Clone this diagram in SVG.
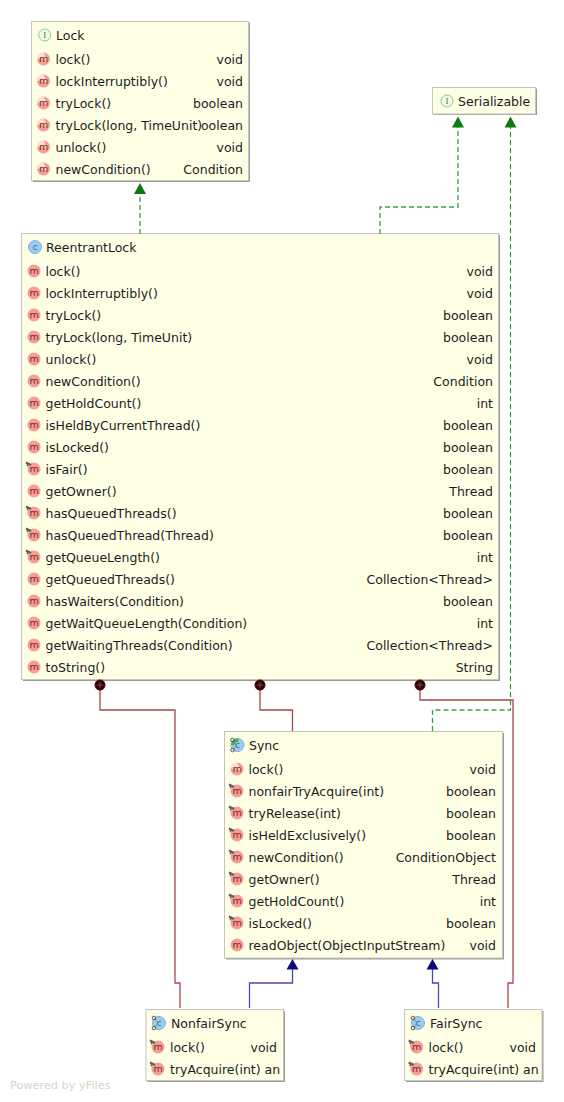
<svg xmlns="http://www.w3.org/2000/svg" width="564" height="1102" viewBox="0 0 564 1102">
<style>
text{font-family:"DejaVu Sans",sans-serif;font-size:12.5px;fill:#1c1c1c}
.r{text-anchor:end}
.box{fill:#ffffe6;stroke:#c4c4c4;stroke-width:1}
.sh{fill:#9a9a9a}
.dep{fill:none;stroke:#3ba33b;stroke-width:1.3;stroke-dasharray:5 3}
.inh{fill:none;stroke:#4a4aa8;stroke-width:1.3}
.own{fill:none;stroke:#a5474c;stroke-width:1.3}
.wm{fill:#d4d6c8;font-size:11.3px}
.mt{fill:#7a2a20;font-size:9.5px;text-anchor:middle}
.ct{fill:#3d6f96;font-size:9.5px;text-anchor:middle}
.it{fill:#2f7a3d;font-size:9px;text-anchor:middle;font-family:"Liberation Serif",serif}
</style>
<defs>
<g id="m"><circle r="6.5" fill="#f59d96"/><text class="mt" y="3">m</text></g>
<g id="pin"><path d="M-7.500-7.500l5 2.500-1 2-2-1-.5 1.500-1.500-.5.500-1.500-1.500-1z" fill="#5f5f5f"/></g>
<g id="mp"><circle r="6.500" fill="#f59d96"/><text class="mt" y="3">m</text><use href="#pin"/></g>
<g id="ma"><circle r="6.500" fill="#f59d96"/><path d="M-6.500 0A6.500 6.500 0 0 1 0-6.500C1.500-3 3-1 4 1.500-1 -.5 -4 -.5 -6.500 0Z" fill="#fbe3cf"/><text class="mt" y="3">m</text></g>
<g id="i"><circle r="6" fill="#f4fbe8" stroke="#7fcf8f" stroke-width="1"/><text class="it" y="3">I</text></g>
<g id="c"><circle r="6.500" fill="#9ccdf0" stroke="#7fb2da" stroke-width="1"/><text class="ct" y="3.200">c</text></g>
<g id="gear"><circle cx="-5" cy="-5" r="1.800" fill="none" stroke="#555" stroke-width="1"/><circle cx="-5" cy="5" r="1.800" fill="none" stroke="#555" stroke-width="1"/><path d="M-4-4L-1 0-4 4" fill="none" stroke="#777" stroke-width=".7"/></g>
<g id="cs"><circle r="6.500" fill="#9ccdf0" stroke="#7fb2da" stroke-width="1"/><text class="ct" y="3.200">c</text><use href="#gear"/></g>
<g id="cy"><circle r="6.500" fill="#9ccdf0" stroke="#7fb2da" stroke-width="1"/><path d="M-6.500 0A6.500 6.500 0 0 1 1-6.500V-3A3.500 3.500 0 0 0-3 0Z" fill="#3cb54a"/><text class="ct" y="3.200">c</text><use href="#gear"/></g>
</defs>
<text class="wm" x="10" y="1089">Powered by yFiles</text>
<g id="Lock">
<rect class="sh" x="33" y="23" width="217" height="159"/><rect class="box" x="31.500" y="21.500" width="217" height="159"/>
<use href="#i" x="44.700" y="35"/><text x="56" y="40">Lock</text>
<use href="#ma" x="43.500" y="59"/><text x="55.500" y="64">lock()</text><text class="r" x="243" y="64">void</text>
<use href="#ma" x="43.500" y="81"/><text x="55.500" y="86">lockInterruptibly()</text><text class="r" x="243" y="86">void</text>
<use href="#ma" x="43.500" y="103"/><text x="55.500" y="108">tryLock()</text><text class="r" x="243" y="108">boolean</text>
<use href="#ma" x="43.500" y="125"/><text x="55.500" y="130">tryLock(long, TimeUnit)</text><text class="r" x="243" y="130">oolean</text>
<use href="#ma" x="43.500" y="147"/><text x="55.500" y="152">unlock()</text><text class="r" x="243" y="152">void</text>
<use href="#ma" x="43.500" y="169"/><text x="55.500" y="174">newCondition()</text><text class="r" x="243" y="174">Condition</text>
</g>
<g id="Serializable">
<rect class="sh" x="434" y="88.500" width="103" height="26.500"/><rect class="box" x="432.500" y="87.500" width="103" height="26.500"/>
<use href="#i" x="447" y="101"/><text x="458" y="106">Serializable</text>
</g>
<g id="ReentrantLock">
<rect class="sh" x="23" y="235" width="477" height="446"/><rect class="box" x="21.500" y="233.500" width="477" height="446"/>
<use href="#c" x="35" y="247"/><text x="46" y="252">ReentrantLock</text>
<use href="#m" x="34" y="271"/><text x="45.500" y="276">lock()</text><text class="r" x="493" y="276">void</text>
<use href="#m" x="34" y="293"/><text x="45.500" y="298">lockInterruptibly()</text><text class="r" x="493" y="298">void</text>
<use href="#m" x="34" y="315"/><text x="45.500" y="320">tryLock()</text><text class="r" x="493" y="320">boolean</text>
<use href="#m" x="34" y="337"/><text x="45.500" y="342">tryLock(long, TimeUnit)</text><text class="r" x="493" y="342">boolean</text>
<use href="#m" x="34" y="359"/><text x="45.500" y="364">unlock()</text><text class="r" x="493" y="364">void</text>
<use href="#m" x="34" y="381"/><text x="45.500" y="386">newCondition()</text><text class="r" x="493" y="386">Condition</text>
<use href="#m" x="34" y="403"/><text x="45.500" y="408">getHoldCount()</text><text class="r" x="493" y="408">int</text>
<use href="#m" x="34" y="425"/><text x="45.500" y="430">isHeldByCurrentThread()</text><text class="r" x="493" y="430">boolean</text>
<use href="#m" x="34" y="447"/><text x="45.500" y="452">isLocked()</text><text class="r" x="493" y="452">boolean</text>
<use href="#mp" x="34" y="469"/><text x="45.500" y="474">isFair()</text><text class="r" x="493" y="474">boolean</text>
<use href="#m" x="34" y="491"/><text x="45.500" y="496">getOwner()</text><text class="r" x="493" y="496">Thread</text>
<use href="#mp" x="34" y="513"/><text x="45.500" y="518">hasQueuedThreads()</text><text class="r" x="493" y="518">boolean</text>
<use href="#mp" x="34" y="535"/><text x="45.500" y="540">hasQueuedThread(Thread)</text><text class="r" x="493" y="540">boolean</text>
<use href="#mp" x="34" y="557"/><text x="45.500" y="562">getQueueLength()</text><text class="r" x="493" y="562">int</text>
<use href="#m" x="34" y="579"/><text x="45.500" y="584">getQueuedThreads()</text><text class="r" x="493" y="584">Collection&lt;Thread&gt;</text>
<use href="#m" x="34" y="601"/><text x="45.500" y="606">hasWaiters(Condition)</text><text class="r" x="493" y="606">boolean</text>
<use href="#m" x="34" y="623"/><text x="45.500" y="628">getWaitQueueLength(Condition)</text><text class="r" x="493" y="628">int</text>
<use href="#m" x="34" y="645"/><text x="45.500" y="650">getWaitingThreads(Condition)</text><text class="r" x="493" y="650">Collection&lt;Thread&gt;</text>
<use href="#m" x="34" y="667"/><text x="45.500" y="672">toString()</text><text class="r" x="493" y="672">String</text>
</g>
<g id="Sync">
<rect class="sh" x="226" y="733" width="278" height="226.500"/><rect class="box" x="224.500" y="731.500" width="278" height="226.500"/>
<use href="#cy" x="237.500" y="745"/><text x="249" y="750">Sync</text>
<use href="#ma" x="237" y="769"/><text x="248.500" y="774">lock()</text><text class="r" x="496" y="774">void</text>
<use href="#mp" x="237" y="791"/><text x="248.500" y="796">nonfairTryAcquire(int)</text><text class="r" x="496" y="796">boolean</text>
<use href="#mp" x="237" y="813"/><text x="248.500" y="818">tryRelease(int)</text><text class="r" x="496" y="818">boolean</text>
<use href="#mp" x="237" y="835"/><text x="248.500" y="840">isHeldExclusively()</text><text class="r" x="496" y="840">boolean</text>
<use href="#mp" x="237" y="857"/><text x="248.500" y="862">newCondition()</text><text class="r" x="496" y="862">ConditionObject</text>
<use href="#mp" x="237" y="879"/><text x="248.500" y="884">getOwner()</text><text class="r" x="496" y="884">Thread</text>
<use href="#mp" x="237" y="901"/><text x="248.500" y="906">getHoldCount()</text><text class="r" x="496" y="906">int</text>
<use href="#mp" x="237" y="923"/><text x="248.500" y="928">isLocked()</text><text class="r" x="496" y="928">boolean</text>
<use href="#m" x="237" y="945"/><text x="248.500" y="950">readObject(ObjectInputStream)</text><text class="r" x="496" y="950">void</text>
</g>
<g id="NonfairSync">
<rect class="sh" x="147.500" y="1011" width="137.500" height="71"/><rect class="box" x="146" y="1009.500" width="137.500" height="71"/>
<use href="#cs" x="159" y="1023"/><text x="171" y="1028">NonfairSync</text>
<use href="#mp" x="158" y="1047"/><text x="170" y="1052">lock()</text><text class="r" x="277" y="1052">void</text>
<use href="#mp" x="158" y="1069"/><text x="170" y="1074">tryAcquire(int) an</text>
</g>
<g id="FairSync">
<rect class="sh" x="406" y="1011" width="137.500" height="71"/><rect class="box" x="404.500" y="1009.500" width="137.500" height="71"/>
<use href="#cs" x="418" y="1023"/><text x="430" y="1028">FairSync</text>
<use href="#mp" x="416.700" y="1047"/><text x="428.500" y="1052">lock()</text><text class="r" x="536" y="1052">void</text>
<use href="#mp" x="416.700" y="1069"/><text x="428.500" y="1074">tryAcquire(int) an</text>
</g>
<g id="connectors">
<path class="dep" d="M140 234V194"/>
<path class="dep" d="M380 234V207H458V127"/>
<path class="dep" d="M432.500 731V710H510.500V127"/>
<path class="own" d="M100 685V710H175V983H180V1008"/>
<path class="own" d="M260 685V710H292.500V731"/>
<path class="own" d="M420 685V700H513V983H508V1008"/>
<path class="inh" d="M249.500 1008V983H292.500V969"/>
<path class="inh" d="M438.500 1008V983H432.500V969"/>
<path d="M140 183l6 11h-12z" fill="#0d7a0d"/>
<path d="M458 116.500l6 11h-12z" fill="#0d7a0d"/>
<path d="M510.500 116.500l6 11h-12z" fill="#0d7a0d"/>
<path d="M292.500 959l6 10.500h-12z" fill="#0b0b80"/>
<path d="M432.500 959l6 10.500h-12z" fill="#0b0b80"/>
<g fill="#2a0508" stroke="#7a2020" stroke-width=".8">
<circle cx="100" cy="685" r="5.200"/><circle cx="260" cy="685" r="5.200"/><circle cx="420" cy="685" r="5.200"/>
</g>
<path d="M97 685h6M100 682v6M257 685h6M260 682v6M417 685h6M420 682v6" stroke="#a5474c" stroke-width=".8"/>
</g>
</svg>
